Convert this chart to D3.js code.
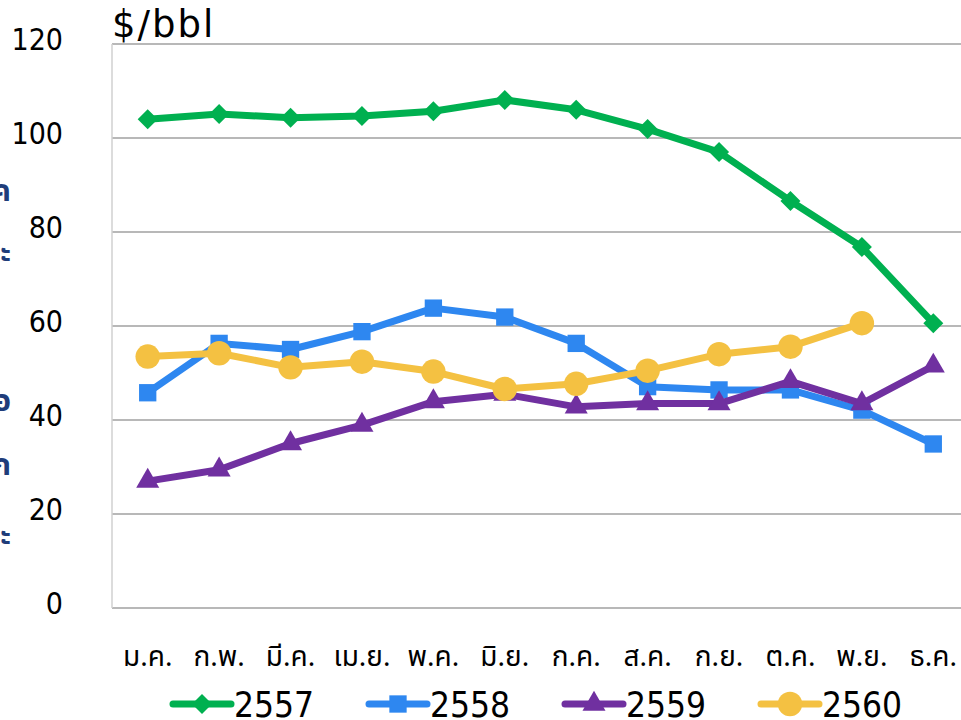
<!DOCTYPE html>
<html>
<head>
<meta charset="utf-8">
<script src="https://cdn.jsdelivr.net/npm/d3@7"></script>
<style>
  body { margin: 0; background: #fff; }
  svg { display: block; font-family: "Noto Sans Thai", "Noto Sans", "DejaVu Sans", sans-serif; }
</style>
</head>
<body>
<svg id="chart" width="961" height="720"></svg>
<script>
  // months (Thai abbreviations)
  var months = ['ม.ค.', 'ก.พ.', 'มี.ค.', 'เม.ย.', 'พ.ค.', 'มิ.ย.', 'ก.ค.', 'ส.ค.', 'ก.ย.', 'ต.ค.', 'พ.ย.', 'ธ.ค.'];
  var yTicks = [0, 20, 40, 60, 80, 100, 120];

  var years = ['2557', '2558', '2559', '2560'];
  var s2557 = [104.0, 105.1, 104.3, 104.7, 105.7, 108.1, 106.0, 101.9, 97.0, 86.6, 76.8, 60.6];
  var s2558 = [45.8, 56.3, 55.0, 58.8, 63.8, 61.9, 56.3, 47.1, 46.4, 46.4, 42.1, 34.9];
  var s2559 = [27.0, 29.4, 35.0, 38.9, 43.9, 45.5, 42.8, 43.5, 43.5, 48.2, 43.5, 51.5];
  var s2560 = [53.5, 54.2, 51.2, 52.4, 50.3, 46.6, 47.7, 50.5, 54.0, 55.6, 60.6];

  var colors = ['#00b050', '#2e87f0', '#7030a0', '#f4c142'];
  var seriesValues = [s2557, s2558, s2559, s2560];

  var svg = d3.select('#chart');
  var margin = {left: 112, top: 44, right: 969, bottom: 608};

  var x = d3.scaleBand()
      .domain(months)
      .range([margin.left, margin.right]);
  var y = d3.scaleLinear()
      .domain([0, 120])
      .range([margin.bottom, margin.top]);

  function cx(i) { return x(months[i]) + x.bandwidth() / 2; }

  // clipped y title remnants at the very left edge
  var leftBits = [['ค', 201], ['ะ', 262], ['อ', 411], ['ก', 475], ['ะ', 545]];
  svg.selectAll('text.edge').data(leftBits).enter().append('text')
      .attr('class', 'edge')
      .attr('x', 11)
      .attr('y', function (d) { return d[1]; })
      .attr('text-anchor', 'end')
      .attr('font-size', 30)
      .attr('font-weight', 'bold')
      .attr('fill', '#1f3d7a')
      .text(function (d) { return d[0]; });

  // gridlines
  svg.append('g')
      .selectAll('line')
      .data(yTicks)
      .enter().append('line')
      .attr('x1', margin.left)
      .attr('x2', 961)
      .attr('y1', function (d) { return y(d); })
      .attr('y2', function (d) { return y(d); })
      .attr('stroke', '#a0a0a0')
      .attr('stroke-width', 1.5);

  svg.append('line')
      .attr('x1', margin.left).attr('x2', margin.left)
      .attr('y1', y(120)).attr('y2', y(0))
      .attr('stroke', '#d0d0d0')
      .attr('stroke-width', 1.5);

  // y axis labels
  var yAxis = d3.axisLeft(y).tickValues(yTicks).tickSize(0).tickPadding(0);
  var yg = svg.append('g')
      .attr('transform', 'translate(63,-4)')
      .call(yAxis);
  yg.select('.domain').remove();
  yg.selectAll('text')
      .attr('font-family', '"DejaVu Sans Condensed", sans-serif')
      .attr('font-size', 30)
      .attr('fill', '#000');

  // x axis labels
  var xAxis = d3.axisBottom(x).tickSize(0).tickPadding(0);
  var xg = svg.append('g')
      .attr('transform', 'translate(0,646)')
      .call(xAxis);
  xg.select('.domain').remove();
  xg.selectAll('text')
      .attr('font-family', '"Noto Sans Thai", "Noto Sans", sans-serif')
      .attr('font-size', 28)
      .attr('fill', '#000');

  // unit label
  svg.append('text')
      .attr('x', 112)
      .attr('y', 37)
      .attr('font-size', 37)
      .attr('letter-spacing', 2)
      .attr('font-family', '"DejaVu Sans", sans-serif')
      .attr('fill', '#000')
      .text('$/bbl');

  var symbols = [
    {type: d3.symbolSquare, size: 200, rotate: 45},
    {type: d3.symbolSquare, size: 300, rotate: 0},
    {type: d3.symbolTriangle, size: 230, rotate: 0},
    {type: d3.symbolCircle, size: 470, rotate: 0}
  ];

  function marker(sel, k) {
    sel.attr('d', d3.symbol().type(symbols[k].type).size(symbols[k].size))
       .attr('fill', colors[k]);
  }

  var line = d3.line()
      .x(function (d, i) { return cx(i); })
      .y(function (d) { return y(d); });

  seriesValues.forEach(function (vals, k) {
    var g = svg.append('g');
    g.append('path')
        .datum(vals)
        .attr('d', line)
        .attr('fill', 'none')
        .attr('stroke', colors[k])
        .attr('stroke-width', 7)
        .attr('stroke-linejoin', 'round');
    g.selectAll('path.pt')
        .data(vals)
        .enter().append('path')
        .attr('class', 'pt')
        .attr('transform', function (d, i) {
          return 'translate(' + cx(i) + ',' + y(d) + ') rotate(' + symbols[k].rotate + ')';
        })
        .call(marker, k);
  });

  // legend
  var legend = svg.append('g')
      .selectAll('g')
      .data(years)
      .enter().append('g')
      .attr('transform', function (d, i) { return 'translate(' + (173 + i * 196) + ',704)'; });

  legend.append('line')
      .attr('x1', 0).attr('x2', 58)
      .attr('stroke', function (d, i) { return colors[i]; })
      .attr('stroke-width', 7)
      .attr('stroke-linecap', 'round');
  legend.append('path')
      .attr('transform', function (d, i) { return 'translate(29,0) rotate(' + symbols[i].rotate + ')'; })
      .each(function (d, i) { d3.select(this).call(marker, i); });
  legend.append('text')
      .attr('x', 61)
      .attr('y', 13)
      .attr('font-family', '"DejaVu Sans Condensed", sans-serif')
      .attr('font-size', 35)
      .attr('fill', '#000')
      .text(function (d) { return d; });
</script>
</body>
</html>
